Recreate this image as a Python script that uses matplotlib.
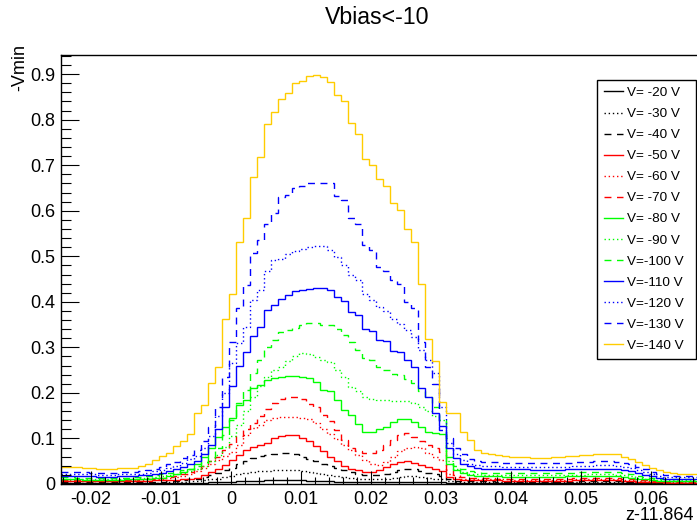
import matplotlib
matplotlib.use("Agg")
import matplotlib.pyplot as plt
from matplotlib.lines import Line2D
from matplotlib.ticker import MultipleLocator, FuncFormatter
import numpy as np

plt.rcParams["font.family"] = ["Liberation Sans", "DejaVu Sans"]

# histogram binning (z - 11.864)
BIN_LO, BIN_W, N_BINS = -0.0243, 0.001, 91

V20 = [0.002] * 18 + [0.003, 0.003,
       0.003, 0.004, 0.004, 0.005, 0.005, 0.006, 0.006, 0.007, 0.007, 0.008,
       0.008, 0.008, 0.008, 0.008, 0.008, 0.007, 0.007, 0.006, 0.006, 0.005,
       0.005, 0.004, 0.004, 0.004, 0.004, 0.004, 0.004, 0.005, 0.005, 0.005,
       0.005, 0.005, 0.005, 0.004, 0.004, 0.003, 0.002, 0.002, 0.002, 0.002] + [0.002] * 31
V30 = [0.003] * 15 + [0.004, 0.004, 0.005, 0.006, 0.007,
       0.008, 0.010, 0.012, 0.015, 0.018, 0.021, 0.024, 0.026, 0.028, 0.029,
       0.030, 0.030, 0.030, 0.030, 0.028, 0.026, 0.024, 0.022, 0.019, 0.017,
       0.015, 0.013, 0.012, 0.011, 0.010, 0.011, 0.012, 0.014, 0.016, 0.017,
       0.017, 0.016, 0.014, 0.012, 0.011, 0.006, 0.005, 0.004, 0.004, 0.004] + [0.004] * 21 + [
       0.003, 0.003, 0.003, 0.002, 0.002, 0.002, 0.002, 0.002, 0.002, 0.002]
V40 = [0.005, 0.005, 0.005, 0.005, 0.004, 0.004, 0.004, 0.004, 0.005, 0.005,
       0.005, 0.005, 0.005, 0.005, 0.005, 0.006, 0.007, 0.008, 0.010, 0.012,
       0.015, 0.019, 0.024, 0.030, 0.036, 0.043, 0.050, 0.057, 0.062, 0.064,
       0.066, 0.067, 0.067, 0.066, 0.060, 0.055, 0.050, 0.045, 0.040, 0.035,
       0.030, 0.026, 0.022, 0.020, 0.019, 0.020, 0.023, 0.027, 0.031, 0.033,
       0.032, 0.029, 0.025, 0.022, 0.018, 0.010, 0.007, 0.006, 0.006, 0.006,
       0.006, 0.006, 0.005, 0.005, 0.005, 0.005, 0.005, 0.005, 0.005, 0.005,
       0.005, 0.005, 0.005, 0.005, 0.006, 0.006, 0.006, 0.006, 0.006, 0.006,
       0.005, 0.005, 0.004, 0.004, 0.003, 0.003, 0.003, 0.003, 0.003, 0.003, 0.003]
V50 = [0.007, 0.007, 0.006, 0.006, 0.006, 0.006, 0.006, 0.006, 0.006, 0.006,
       0.007, 0.007, 0.007, 0.008, 0.008, 0.008, 0.009, 0.010, 0.012, 0.014,
       0.020, 0.027, 0.034, 0.042, 0.053, 0.064, 0.075, 0.082, 0.086, 0.089,
       0.100, 0.106, 0.107, 0.107, 0.100, 0.095, 0.083, 0.072, 0.060, 0.050,
       0.040, 0.032, 0.030, 0.027, 0.027, 0.031, 0.038, 0.045, 0.049, 0.050,
       0.047, 0.042, 0.038, 0.032, 0.028, 0.015, 0.011, 0.009, 0.008, 0.008,
       0.008, 0.008, 0.008, 0.007, 0.007, 0.007, 0.007, 0.007, 0.007, 0.007,
       0.007, 0.007, 0.007, 0.008, 0.008, 0.008, 0.008, 0.008, 0.008, 0.008,
       0.007, 0.006, 0.005, 0.005, 0.004, 0.004, 0.003, 0.003, 0.003, 0.003, 0.003]
V60 = [0.008, 0.008, 0.008, 0.007, 0.007, 0.007, 0.007, 0.007, 0.007, 0.008,
       0.008, 0.009, 0.010, 0.011, 0.012, 0.013, 0.015, 0.018, 0.022, 0.028,
       0.035, 0.044, 0.052, 0.062, 0.071, 0.086, 0.107, 0.122, 0.130, 0.140,
       0.145, 0.148, 0.148, 0.148, 0.145, 0.143, 0.134, 0.120, 0.110, 0.098,
       0.085, 0.075, 0.064, 0.052, 0.045, 0.042, 0.048, 0.060, 0.072, 0.080,
       0.082, 0.078, 0.068, 0.060, 0.052, 0.022, 0.015, 0.012, 0.011, 0.010,
       0.010, 0.010, 0.010, 0.010, 0.009, 0.009, 0.009, 0.009, 0.009, 0.009,
       0.009, 0.009, 0.010, 0.010, 0.010, 0.010, 0.010, 0.011, 0.011, 0.010,
       0.009, 0.008, 0.007, 0.006, 0.005, 0.005, 0.004, 0.004, 0.004, 0.004, 0.004]
V70 = [0.009, 0.009, 0.009, 0.008, 0.008, 0.008, 0.008, 0.008, 0.008, 0.009,
       0.009, 0.010, 0.011, 0.012, 0.014, 0.016, 0.018, 0.022, 0.026, 0.032,
       0.040, 0.050, 0.060, 0.075, 0.088, 0.105, 0.120, 0.135, 0.150, 0.165,
       0.178, 0.186, 0.191, 0.190, 0.186, 0.176, 0.170, 0.152, 0.138, 0.118,
       0.096, 0.080, 0.072, 0.067, 0.068, 0.074, 0.085, 0.096, 0.108, 0.111,
       0.104, 0.094, 0.085, 0.078, 0.070, 0.030, 0.020, 0.016, 0.014, 0.013,
       0.013, 0.013, 0.012, 0.012, 0.012, 0.012, 0.012, 0.012, 0.012, 0.012,
       0.012, 0.012, 0.012, 0.013, 0.013, 0.013, 0.013, 0.014, 0.014, 0.013,
       0.012, 0.011, 0.009, 0.008, 0.007, 0.006, 0.005, 0.005, 0.005, 0.005, 0.005]
V80 = [0.010, 0.010, 0.010, 0.009, 0.009, 0.009, 0.009, 0.009, 0.009, 0.010,
       0.010, 0.011, 0.012, 0.013, 0.014, 0.017, 0.021, 0.026, 0.033, 0.045,
       0.060, 0.078, 0.104, 0.126, 0.144, 0.173, 0.184, 0.210, 0.217, 0.228,
       0.232, 0.235, 0.237, 0.237, 0.236, 0.232, 0.224, 0.206, 0.204, 0.184,
       0.162, 0.151, 0.132, 0.115, 0.115, 0.120, 0.126, 0.137, 0.142, 0.142,
       0.137, 0.126, 0.115, 0.112, 0.110, 0.045, 0.030, 0.024, 0.020, 0.018,
       0.017, 0.017, 0.017, 0.016, 0.016, 0.016, 0.016, 0.016, 0.016, 0.016,
       0.016, 0.016, 0.017, 0.017, 0.017, 0.017, 0.018, 0.018, 0.018, 0.017,
       0.016, 0.014, 0.012, 0.010, 0.008, 0.007, 0.006, 0.006, 0.006, 0.006, 0.006]
V90 = [0.012, 0.012, 0.012, 0.011, 0.011, 0.011, 0.011, 0.011, 0.011, 0.012,
       0.012, 0.013, 0.014, 0.015, 0.017, 0.019, 0.021, 0.024, 0.028, 0.033,
       0.040, 0.050, 0.063, 0.082, 0.105, 0.130, 0.160, 0.190, 0.215, 0.235,
       0.250, 0.257, 0.270, 0.280, 0.287, 0.286, 0.278, 0.272, 0.268, 0.250,
       0.235, 0.213, 0.205, 0.190, 0.187, 0.184, 0.184, 0.183, 0.183, 0.182,
       0.178, 0.170, 0.160, 0.150, 0.140, 0.050, 0.032, 0.026, 0.023, 0.021,
       0.020, 0.020, 0.020, 0.020, 0.019, 0.019, 0.019, 0.019, 0.019, 0.019,
       0.019, 0.020, 0.020, 0.020, 0.020, 0.021, 0.021, 0.021, 0.021, 0.020,
       0.019, 0.017, 0.014, 0.012, 0.010, 0.009, 0.008, 0.008, 0.008, 0.008, 0.008]
V100 = [0.015, 0.015, 0.014, 0.014, 0.014, 0.013, 0.013, 0.013, 0.014, 0.014,
        0.015, 0.016, 0.017, 0.019, 0.021, 0.024, 0.027, 0.031, 0.034, 0.040,
        0.049, 0.060, 0.078, 0.107, 0.140, 0.177, 0.206, 0.243, 0.272, 0.301,
        0.316, 0.334, 0.339, 0.343, 0.349, 0.354, 0.354, 0.350, 0.350, 0.341,
        0.327, 0.312, 0.294, 0.276, 0.272, 0.257, 0.250, 0.242, 0.239, 0.230,
        0.221, 0.205, 0.190, 0.170, 0.140, 0.060, 0.040, 0.032, 0.028, 0.026,
        0.025, 0.025, 0.025, 0.025, 0.024, 0.024, 0.024, 0.024, 0.024, 0.024,
        0.024, 0.025, 0.025, 0.025, 0.026, 0.026, 0.026, 0.027, 0.027, 0.026,
        0.024, 0.021, 0.018, 0.015, 0.013, 0.011, 0.010, 0.010, 0.010, 0.010, 0.010]
V110 = [0.018, 0.018, 0.017, 0.017, 0.017, 0.016, 0.016, 0.016, 0.017, 0.017,
        0.018, 0.019, 0.020, 0.022, 0.025, 0.028, 0.032, 0.037, 0.043, 0.050,
        0.065, 0.085, 0.120, 0.170, 0.215, 0.259, 0.290, 0.326, 0.344, 0.382,
        0.393, 0.406, 0.415, 0.423, 0.427, 0.429, 0.430, 0.430, 0.427, 0.410,
        0.401, 0.377, 0.371, 0.340, 0.335, 0.317, 0.313, 0.293, 0.289, 0.272,
        0.257, 0.210, 0.192, 0.155, 0.127, 0.078, 0.058, 0.045, 0.040, 0.036,
        0.034, 0.033, 0.033, 0.032, 0.032, 0.032, 0.032, 0.031, 0.031, 0.031,
        0.031, 0.031, 0.032, 0.032, 0.032, 0.033, 0.033, 0.034, 0.034, 0.033,
        0.031, 0.028, 0.024, 0.020, 0.017, 0.014, 0.012, 0.012, 0.012, 0.012, 0.012]
V120 = [0.022, 0.022, 0.021, 0.021, 0.021, 0.020, 0.020, 0.020, 0.021, 0.021,
        0.022, 0.023, 0.025, 0.028, 0.031, 0.035, 0.040, 0.047, 0.054, 0.062,
        0.080, 0.105, 0.150, 0.200, 0.265, 0.310, 0.345, 0.404, 0.427, 0.467,
        0.491, 0.495, 0.506, 0.512, 0.515, 0.520, 0.522, 0.522, 0.513, 0.498,
        0.480, 0.458, 0.447, 0.418, 0.404, 0.389, 0.380, 0.363, 0.352, 0.339,
        0.323, 0.294, 0.272, 0.243, 0.170, 0.090, 0.065, 0.052, 0.045, 0.042,
        0.040, 0.039, 0.039, 0.038, 0.038, 0.038, 0.038, 0.037, 0.037, 0.037,
        0.037, 0.038, 0.038, 0.039, 0.039, 0.040, 0.041, 0.041, 0.041, 0.040,
        0.038, 0.035, 0.030, 0.026, 0.022, 0.018, 0.016, 0.015, 0.015, 0.015, 0.015]
V130 = [0.027, 0.027, 0.026, 0.026, 0.025, 0.025, 0.025, 0.025, 0.026, 0.026,
        0.027, 0.028, 0.030, 0.033, 0.037, 0.043, 0.049, 0.056, 0.064, 0.075,
        0.095, 0.125, 0.170, 0.235, 0.312, 0.386, 0.436, 0.507, 0.535, 0.572,
        0.594, 0.630, 0.635, 0.651, 0.655, 0.661, 0.661, 0.661, 0.661, 0.632,
        0.623, 0.583, 0.572, 0.524, 0.513, 0.477, 0.467, 0.448, 0.440, 0.400,
        0.386, 0.312, 0.257, 0.220, 0.118, 0.100, 0.080, 0.066, 0.055, 0.050,
        0.049, 0.048, 0.048, 0.047, 0.047, 0.047, 0.046, 0.046, 0.046, 0.046,
        0.046, 0.047, 0.047, 0.048, 0.048, 0.049, 0.050, 0.050, 0.050, 0.049,
        0.047, 0.043, 0.038, 0.032, 0.027, 0.022, 0.019, 0.018, 0.018, 0.018, 0.018]
V140 = [0.038, 0.038, 0.037, 0.036, 0.035, 0.034, 0.034, 0.034, 0.035, 0.035,
        0.036, 0.039, 0.045, 0.052, 0.062, 0.069, 0.084, 0.094, 0.109, 0.156,
        0.173, 0.222, 0.257, 0.363, 0.417, 0.531, 0.583, 0.674, 0.718, 0.791,
        0.816, 0.846, 0.859, 0.880, 0.886, 0.895, 0.899, 0.893, 0.882, 0.855,
        0.841, 0.793, 0.769, 0.713, 0.701, 0.669, 0.654, 0.617, 0.601, 0.559,
        0.531, 0.439, 0.319, 0.270, 0.180, 0.156, 0.156, 0.115, 0.096, 0.075,
        0.069, 0.066, 0.063, 0.062, 0.060, 0.060, 0.059, 0.058, 0.058, 0.058,
        0.059, 0.060, 0.061, 0.062, 0.063, 0.064, 0.065, 0.066, 0.065, 0.065,
        0.060, 0.055, 0.049, 0.042, 0.035, 0.030, 0.027, 0.024, 0.023, 0.023, 0.023]

LABELS = ["V= -20 V", "V= -30 V", "V= -40 V", "V= -50 V", "V= -60 V",
          "V= -70 V", "V= -80 V", "V= -90 V", "V=-100 V", "V=-110 V",
          "V=-120 V", "V=-130 V", "V=-140 V"]
VALUES = [V20, V30, V40, V50, V60, V70, V80, V90, V100, V110, V120, V130, V140]

SOLID, DOT, DASH = "-", (0, (1, 2)), (0, (5, 4))
COLORS = ["black"] * 3 + ["#ff0000"] * 3 + ["#00ff00"] * 3 + ["#0000ff"] * 3 + ["#ffcc00"]
STYLES = [SOLID, DOT, DASH] * 4 + [SOLID]

X_MAJOR = [-0.02, -0.01, 0.0, 0.01, 0.02, 0.03, 0.04, 0.05, 0.06]
Y_MAJOR = [0.0, 0.1, 0.2, 0.3, 0.4, 0.5, 0.6, 0.7, 0.8, 0.9]


def main() -> None:
    fig = plt.figure(figsize=(6.97, 5.25), dpi=100)
    ax = fig.add_axes([61 / 697, 41 / 525, 637 / 697, 429 / 525])

    edges = BIN_LO + BIN_W * np.arange(N_BINS + 1)
    for vals, col, ls in zip(VALUES, COLORS, STYLES):
        ax.stairs(vals, edges, baseline=None, color=col, linestyle=ls, lw=1.0)

    ax.set_xlim(edges[0], edges[-1])
    ax.set_ylim(0, 0.942)

    fmt = FuncFormatter(lambda v, _: f"{round(v, 4):g}")
    ax.set_xticks(X_MAJOR)
    ax.set_yticks(Y_MAJOR)
    ax.xaxis.set_major_formatter(fmt)
    ax.yaxis.set_major_formatter(fmt)
    ax.xaxis.set_minor_locator(MultipleLocator(0.002))
    ax.yaxis.set_minor_locator(MultipleLocator(0.02))
    ax.tick_params(axis="both", which="both", direction="in", labelsize=13,
                   width=0.8, colors="black")
    ax.tick_params(axis="x", which="major", length=9.5, pad=5)
    ax.tick_params(axis="x", which="minor", length=5)
    ax.tick_params(axis="y", which="major", length=13, pad=4)
    ax.tick_params(axis="y", which="minor", length=7)
    for sp in ax.spines.values():
        sp.set_linewidth(1.0)

    # legend box: fixed width like a ROOT TLegend
    handles = [Line2D([], [], color=c, linestyle=s, lw=1.0) for c, s in zip(COLORS, STYLES)]
    leg = ax.legend(handles, LABELS, loc="upper left",
                    bbox_to_anchor=(536 / 637, 404 / 429, 99 / 637, 0.0), mode="expand",
                    borderaxespad=0, fontsize=9.7, handlelength=1.45, handletextpad=0.3,
                    labelspacing=0.64, borderpad=0.5, fancybox=False, framealpha=1,
                    edgecolor="black")
    leg.get_frame().set_linewidth(1.0)

    fig.text(377 / 697, 1 - 18 / 525, "Vbias<-10", ha="center", va="center", fontsize=16.7)
    fig.text(20 / 697, 1 - 44 / 525, "-Vmin", rotation=90, ha="center", va="top", fontsize=13)
    fig.text(694 / 697, 1 - 515 / 525, "z-11.864", ha="right", va="center", fontsize=13)

    fig.savefig("out.png", dpi=100)


if __name__ == "__main__":
    main()
